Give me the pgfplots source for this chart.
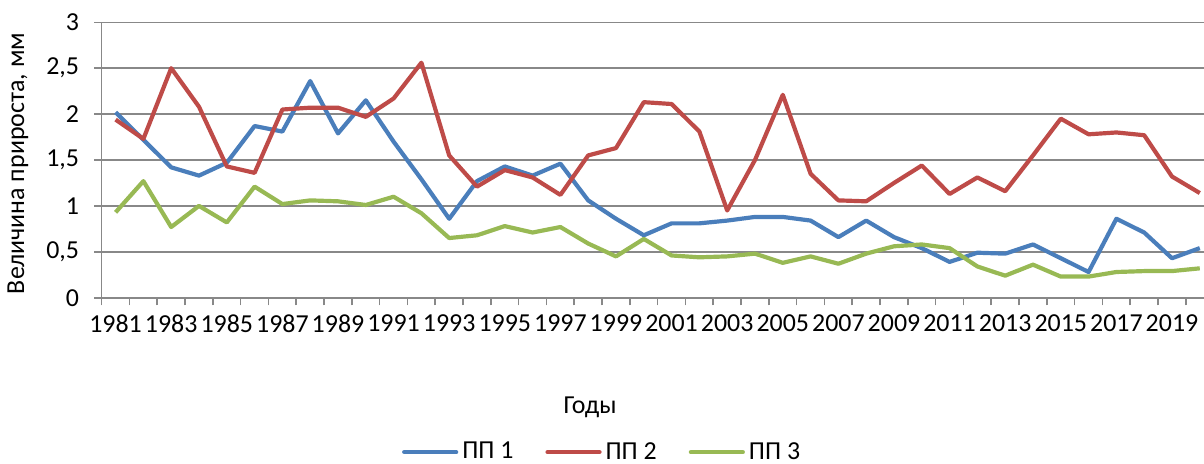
\documentclass[border=0pt]{standalone}
\usepackage{fontspec}
\setmainfont{Carlito}
\usepackage{pgfplots}
\pgfplotsset{compat=1.18}
\definecolor{c1}{HTML}{4A7EBB}
\definecolor{c2}{HTML}{BE4B48}
\definecolor{c3}{HTML}{98B954}
\definecolor{gridc}{HTML}{888888}
\begin{document}
\begin{tikzpicture}
\begin{axis}[
  at={(0,0)}, anchor=south west,
  scale only axis, width=556bp, height=137.7bp,
  xmin=1980.5, xmax=2020.5, ymin=0, ymax=3,
  axis x line=bottom, axis y line=left,
  axis line style={-, draw=gridc, line width=0.8pt},
  ytick={0,0.5,...,3},
  ymajorgrids, grid style={draw=gridc, line width=0.8pt},
  xtick={1980.5,1981.5,...,2020.5}, xticklabels={},
  extra x ticks={1981,1983,...,2019},
  extra x tick style={major tick length=0pt, tick style={draw=none}},
  tick align=outside, major tick length=3.8bp,
  tick style={draw=gridc, line width=0.8pt},
  tick label style={font=\fontsize{13}{15}\selectfont, text=black},
  /pgf/number format/assume math mode=true,
  /pgf/number format/use comma,
  /pgf/number format/1000 sep={},
  yticklabel style={anchor=east, xshift=-4bp},
  xticklabel style={anchor=north, yshift=-5bp},
  legend style={at={(250.7bp,-77.2bp)}, anchor=center, draw=none, fill=none,
    legend columns=3, font=\fontsize{13}{15}\selectfont,
    /tikz/every even column/.append style={column sep=14bp}},
  legend cell align=left,
  legend image code/.code={\draw[#1, line cap=round] (0bp,0bp) -- (26bp,0bp);},
  clip=false,
]
\addplot[c1, line width=2.1pt, line join=round] coordinates {
(1981,2.02) (1982,1.72) (1983,1.42) (1984,1.33) (1985,1.47) (1986,1.87) (1987,1.81) (1988,2.36) (1989,1.79) (1990,2.15)
(1991,1.70) (1992,1.29) (1993,0.86) (1994,1.27) (1995,1.43) (1996,1.33) (1997,1.46) (1998,1.06) (1999,0.86) (2000,0.68)
(2001,0.81) (2002,0.81) (2003,0.84) (2004,0.88) (2005,0.88) (2006,0.84) (2007,0.66) (2008,0.84) (2009,0.66) (2010,0.54)
(2011,0.39) (2012,0.49) (2013,0.48) (2014,0.58) (2015,0.43) (2016,0.28) (2017,0.86) (2018,0.71) (2019,0.43) (2020,0.54)
};
\addlegendentry{ПП 1}
\addplot[c2, line width=2.1pt, line join=round] coordinates {
(1981,1.94) (1982,1.73) (1983,2.50) (1984,2.08) (1985,1.43) (1986,1.36) (1987,2.05) (1988,2.07) (1989,2.07) (1990,1.97)
(1991,2.17) (1992,2.56) (1993,1.55) (1994,1.21) (1995,1.39) (1996,1.31) (1997,1.12) (1998,1.55) (1999,1.63) (2000,2.13)
(2001,2.11) (2002,1.81) (2003,0.95) (2004,1.50) (2005,2.21) (2006,1.35) (2007,1.06) (2008,1.05) (2009,1.25) (2010,1.44)
(2011,1.13) (2012,1.31) (2013,1.16) (2014,1.55) (2015,1.95) (2016,1.78) (2017,1.80) (2018,1.77) (2019,1.32) (2020,1.14)
};
\addlegendentry{ПП 2}
\addplot[c3, line width=2.1pt, line join=round] coordinates {
(1981,0.93) (1982,1.27) (1983,0.77) (1984,1.00) (1985,0.82) (1986,1.21) (1987,1.02) (1988,1.06) (1989,1.05) (1990,1.01)
(1991,1.10) (1992,0.92) (1993,0.65) (1994,0.68) (1995,0.78) (1996,0.71) (1997,0.77) (1998,0.59) (1999,0.45) (2000,0.64)
(2001,0.46) (2002,0.44) (2003,0.45) (2004,0.48) (2005,0.38) (2006,0.45) (2007,0.37) (2008,0.48) (2009,0.56) (2010,0.58)
(2011,0.54) (2012,0.34) (2013,0.24) (2014,0.36) (2015,0.23) (2016,0.23) (2017,0.28) (2018,0.29) (2019,0.29) (2020,0.32)
};
\addlegendentry{ПП 3}
\end{axis}
\node[font=\fontsize{13}{15}\selectfont] at (244.2bp,-54.6bp) {Годы};
\node[font=\fontsize{13}{15}\selectfont, rotate=90] at (-41.85bp,67.1bp) {Величина прироста, мм};
\pgfresetboundingbox
\path[use as bounding box] (-50.85bp,-83.15bp) rectangle (551.15bp,148.85bp);
\end{tikzpicture}
\end{document}
